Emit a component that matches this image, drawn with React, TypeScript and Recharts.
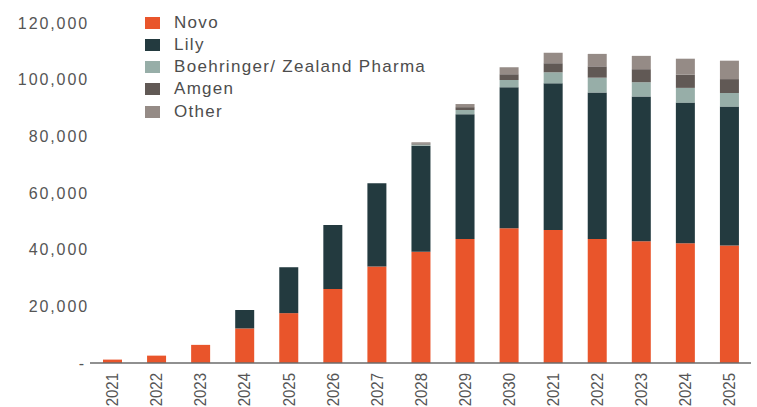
import React from 'react';
import { BarChart, Bar, XAxis, YAxis } from 'recharts';

const yearLabels = ['2021', '2022', '2023', '2024', '2025', '2026', '2027', '2028', '2029', '2030', '2021', '2022', '2023', '2024', '2025'];
const novo = [1200, 2600, 6400, 12200, 17600, 26100, 34100, 39300, 43800, 47600, 46900, 43800, 43000, 42300, 41500];
const lily = [0, 0, 0, 6500, 16200, 22600, 29300, 37400, 44000, 49700, 51800, 51700, 51100, 49600, 49000];
const boehringer = [0, 0, 0, 0, 0, 0, 0, 400, 1500, 2600, 3900, 5200, 5000, 5200, 4800];
const amgen = [0, 0, 0, 0, 0, 0, 0, 400, 1000, 2000, 3200, 4000, 4600, 4700, 4900];
const other = [0, 0, 0, 0, 0, 0, 0, 400, 1100, 2500, 3700, 4400, 4700, 5600, 6500];
const yTicks = [0, 20000, 40000, 60000, 80000, 100000, 120000];

const seriesNames = ['Novo', 'Lily', 'Boehringer/ Zealand Pharma', 'Amgen', 'Other'];
const seriesKeys = ['novo', 'lily', 'boehringer', 'amgen', 'other'];
const seriesColors = ['#E9552B', '#233A3F', '#97AEA8', '#615955', '#958B86'];

const data = yearLabels.map((label, i) => ({
  idx: i,
  label,
  novo: novo[i],
  lily: lily[i],
  boehringer: boehringer[i],
  amgen: amgen[i],
  other: other[i],
}));

const FONT = '"Liberation Sans", Arial, Helvetica, sans-serif';
const AXIS_Y = 363;

const XTick = (props: any) => {
  const { x, payload } = props;
  return (
    <text
      transform={`translate(${x},${AXIS_Y + 10}) rotate(-90) scale(1,1.15)`}
      textAnchor="end"
      dy="0.36em"
      fontSize={15}
      fontFamily={FONT}
      fill="#555555"
    >
      {yearLabels[payload.value]}
    </text>
  );
};

const YTick = (props: any) => {
  const { y, payload } = props;
  const v = payload.value as number;
  const txt = v === 0 ? '-' : v.toLocaleString('en-US');
  return (
    <text
      x={v === 0 ? 86 : 89}
      y={y}
      textAnchor="end"
      dy="0.36em"
      fontSize={16}
      letterSpacing={1.9}
      fontFamily={FONT}
      fill="#555555"
    >
      {txt}
    </text>
  );
};

const LegendBox = () => (
  <div style={{ position: 'absolute', left: 145, top: 11.5, fontFamily: FONT }}>
    {seriesNames.map((name, i) => (
      <div key={name} style={{ display: 'flex', alignItems: 'center', height: 22.25 }}>
        <span style={{ display: 'inline-block', width: 15, height: 12, background: seriesColors[i], marginRight: 14 }} />
        <span style={{ fontSize: 17, letterSpacing: 1.3, color: '#4d4d4d', lineHeight: '22px', whiteSpace: 'nowrap' }}>{name}</span>
      </div>
    ))}
  </div>
);

export default function App() {
  return (
    <div style={{ position: 'absolute', left: 0, top: 0, width: 757, height: 407, background: '#fff', overflow: 'hidden' }}>
      <BarChart
        width={757}
        height={407}
        data={data}
        margin={{ top: 23, right: 6, bottom: 0, left: 0 }}
        barSize={19}
      >
        <XAxis
          dataKey="idx"
          type="category"
          height={44}
          tick={<XTick />}
          tickLine={false}
          interval={0}
          axisLine={{ stroke: '#6b6b6b', strokeWidth: 1.5 }}
        />
        <YAxis
          width={90}
          domain={[0, 120000]}
          ticks={yTicks}
          tick={<YTick />}
          tickLine={false}
          axisLine={false}
          interval={0}
        />
        {seriesKeys.map((k, i) => (
          <Bar
            key={k}
            dataKey={k}
            name={seriesNames[i]}
            stackId="a"
            fill={seriesColors[i]}
            isAnimationActive={false}
          />
        ))}
      </BarChart>
      <LegendBox />
    </div>
  );
}
